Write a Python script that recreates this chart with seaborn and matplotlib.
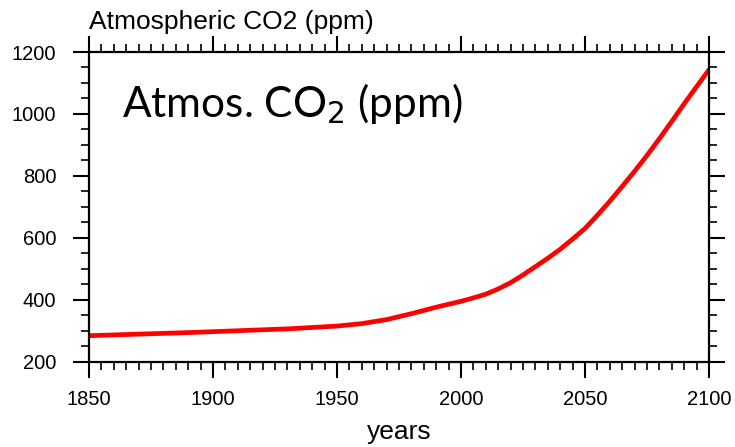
import matplotlib
matplotlib.use("Agg")
import matplotlib.pyplot as plt
import seaborn as sns
import pandas as pd
from matplotlib.ticker import MultipleLocator

years = [1850, 1870, 1890, 1910, 1930, 1950, 1960, 1970, 1980, 1990, 2000,
         2005, 2010, 2015, 2020, 2025, 2030, 2035, 2040, 2045, 2050,
         2055, 2060, 2065, 2070, 2075, 2080, 2085, 2090, 2095, 2100]
co2 = [284, 289, 294, 300, 306, 315, 323, 336, 355, 376, 395,
       406, 418, 435, 455, 480, 507, 534, 563, 596, 630,
       673, 718, 766, 815, 866, 920, 976, 1033, 1088, 1143]
x_ticks = [1850, 1900, 1950, 2000, 2050, 2100]
y_ticks = [200, 400, 600, 800, 1000, 1200]
title = "Atmospheric CO2 (ppm)"
xlabel = "years"
overlay = "Atmos. CO$_2$ (ppm)"

sns.set_theme(style="white")
plt.rcParams['font.family'] = ['Liberation Sans', 'DejaVu Sans']
plt.rcParams['text.color'] = 'black'
plt.rcParams['axes.labelcolor'] = 'black'

df = pd.DataFrame({"year": years, "co2": co2})

fig = plt.figure(figsize=(7.35, 4.47), dpi=100)
ax = fig.add_axes([89/735, (447-361.7)/447, (709-89)/735, (361.7-52)/447])
sns.lineplot(data=df, x="year", y="co2", ax=ax, color="#ff0000", linewidth=3.4)

ax.set_xlim(1850, 2100)
ax.set_ylim(200, 1200)
ax.set_xticks(x_ticks)
ax.set_yticks(y_ticks)
ax.xaxis.set_minor_locator(MultipleLocator(5))
ax.yaxis.set_minor_locator(MultipleLocator(50))
ax.tick_params(which="major", direction="out", length=11.5, width=1.5,
               top=True, right=True, bottom=True, left=True,
               labeltop=False, labelright=False, labelsize=14.5, colors="black")
ax.tick_params(axis="x", which="major", pad=9)
ax.tick_params(axis="y", which="major", pad=12)
ax.tick_params(which="minor", direction="out", length=5.5, width=1.2,
               top=True, right=True, bottom=True, left=True, colors="black")
for s in ax.spines.values():
    s.set_linewidth(1.6)
    s.set_color("black")
ax.set_xlabel(xlabel, fontsize=19, labelpad=8, color="black")
ax.set_ylabel("")

fig.text(89/735, (447-29)/447, title, fontsize=19, ha="left", va="baseline", color="black")

ax.text(0.053, 0.79, overlay, transform=ax.transAxes, fontsize=30.5,
        family=["Lato", "DejaVu Sans"], va="baseline", ha="left", color="black")

fig.savefig("out.png", dpi=100)
